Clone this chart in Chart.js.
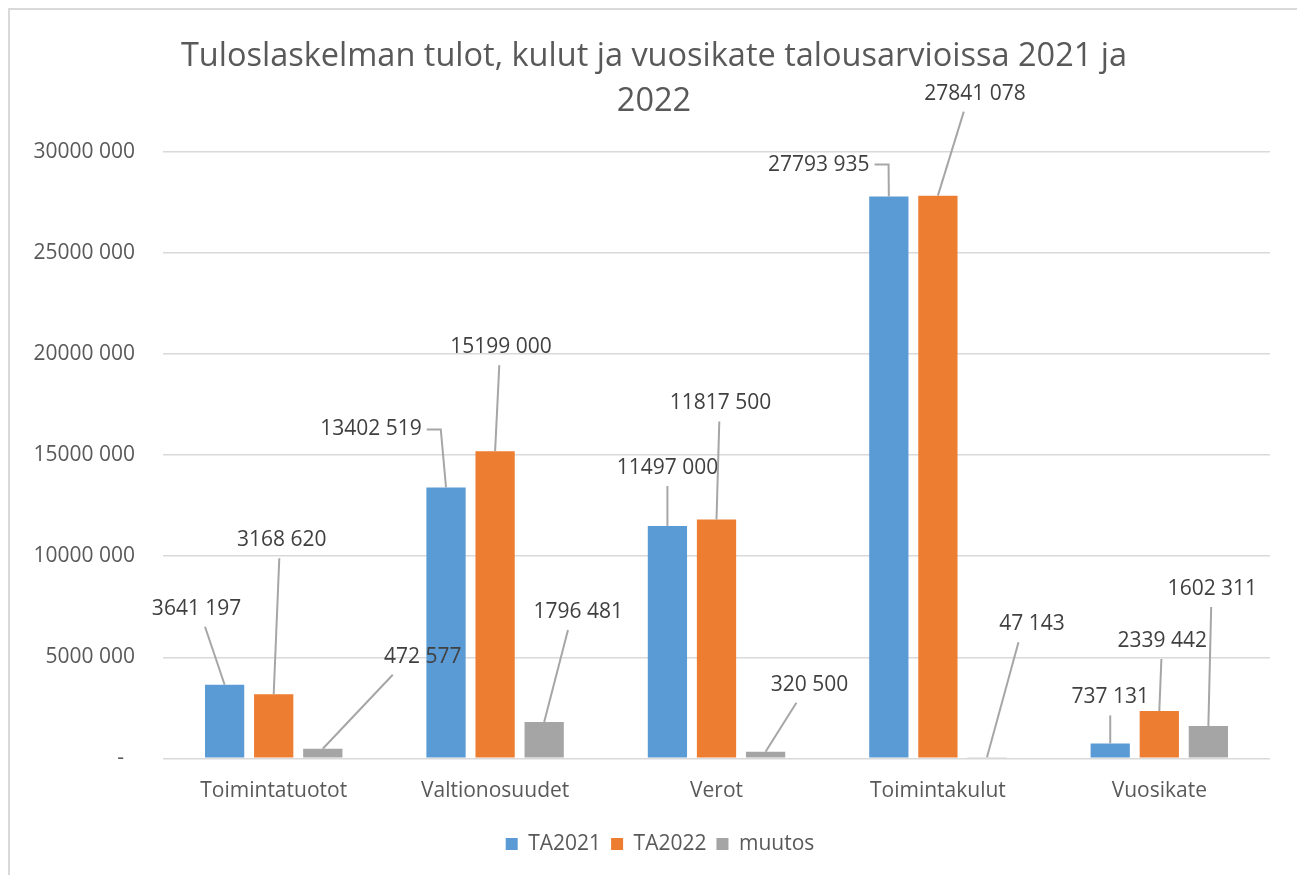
<!DOCTYPE html>
<html>
<head>
<meta charset="utf-8">
<script src="https://cdn.jsdelivr.net/npm/chart.js@4.4.1/dist/chart.umd.min.js"></script>
<style>
  html, body { margin: 0; padding: 0; background: #fff; }
  #wrap { width: 1297px; height: 875px; }
</style>
</head>
<body>
<div id="wrap"><canvas id="c"></canvas></div>
<script>
// data
const categories = ['Toimintatuotot', 'Valtionosuudet', 'Verot', 'Toimintakulut', 'Vuosikate'];
const ta2021 = [3641197, 13402519, 11497000, 27793935, 737131];
const ta2022 = [3168620, 15199000, 11817500, 27841078, 2339442];
const muutos = [472577, 1796481, 320500, 47143, 1602311];
const yTicks = [0, 5000000, 10000000, 15000000, 20000000, 25000000, 30000000];

// where each data label sits, relative to its bar top: [dx, dy, elbow]
const labelPos = [
    [[-28, -76], [-75, -58, true], [0, -58], [-70, -32, true], [0, -46]],
    [[8, -154], [6, -104], [4, -116], [37, -102], [3, -70]],
    [[100, -92], [34, -110], [44, -67], [45, -133], [4, -137]],
];

const FONT = "'Open Sans', 'Noto Sans', sans-serif";

function fmt(v) {
    if (v === 0) return '-  ';
    const th = Math.floor(v / 1000);
    const r = v % 1000;
    return th + ' ' + String(r).padStart(3, '0');
}

const frame = {
    id: 'frame',
    afterLayout(chart) {
        // title and legend sit a little right of the chart centre in the original
        chart.titleBlock.left += 28;
        chart.legend.left += 40;
    },
    beforeDraw(chart) {
        const ctx = chart.ctx;
        ctx.save();
        ctx.fillStyle = '#fff';
        ctx.fillRect(0, 0, chart.width, chart.height);
        ctx.strokeStyle = '#d9d9d9';
        ctx.lineWidth = 2;
        ctx.beginPath();
        ctx.moveTo(9, chart.height);
        ctx.lineTo(9, 9);
        ctx.lineTo(chart.width, 9);
        ctx.stroke();
        ctx.restore();
    },
};

const leaderLabels = {
    id: 'leaderLabels',
    afterDatasetsDraw(chart) {
        const ctx = chart.ctx;
        ctx.save();
        ctx.font = '21px ' + FONT;
        ctx.textAlign = 'center';
        ctx.textBaseline = 'middle';
        chart.data.datasets.forEach((ds, i) => {
            const meta = chart.getDatasetMeta(i);
            meta.data.forEach((bar, j) => {
                const pos = labelPos[i][j];
                const text = fmt(ds.data[j]);
                const bx = bar.x, by = bar.y;
                const tx = bx + pos[0], ty = by + pos[1];
                const w = ctx.measureText(text).width;
                ctx.strokeStyle = '#a6a6a6';
                ctx.lineWidth = 2;
                ctx.beginPath();
                if (pos[2]) {
                    ctx.moveTo(tx + w / 2 + 5, ty);
                    ctx.lineTo(tx + w / 2 + 19, ty);
                } else {
                    let sx = tx + (bx - tx) * 0.3;
                    sx = Math.max(tx - w / 2, Math.min(tx + w / 2, sx));
                    ctx.moveTo(sx, ty + 18);
                }
                ctx.lineTo(bx, by);
                ctx.stroke();
                ctx.fillStyle = '#404040';
                ctx.fillText(text, tx, ty);
            });
        });
        ctx.restore();
    },
};

new Chart(document.getElementById('c'), {
    type: 'bar',
    data: {
        labels: categories,
        datasets: [
            { label: 'TA2021', data: ta2021, backgroundColor: '#5b9bd5' },
            { label: 'TA2022', data: ta2022, backgroundColor: '#ed7d31' },
            { label: 'muutos', data: muutos, backgroundColor: '#a5a5a5' },
        ],
    },
    options: {
        responsive: true,
        maintainAspectRatio: false,
        animation: false,
        categoryPercentage: 0.665,
        barPercentage: 0.8,
        layout: { padding: { left: 10, right: 27, top: 0, bottom: 10.5 } },
        plugins: {
            title: {
                display: true,
                text: ['Tuloslaskelman tulot, kulut ja vuosikate talousarvioissa 2021 ja', '2022'],
                color: '#595959',
                font: { family: FONT, size: 32.5, weight: 'normal', lineHeight: 45 / 32.5 },
                padding: { top: 34, bottom: 28 },
            },
            legend: {
                position: 'bottom',
                labels: {
                    color: '#595959',
                    font: { family: FONT, size: 21 },
                    boxWidth: 12,
                    boxHeight: 12,
                    padding: 10,
                },
            },
            tooltip: { enabled: false },
        },
        scales: {
            x: {
                grid: { display: false, drawTicks: false },
                border: { display: false },
                ticks: { color: '#595959', font: { family: FONT, size: 21 }, padding: 20 },
            },
            y: {
                min: 0,
                max: 30000000,
                afterBuildTicks(scale) {
                    scale.ticks = yTicks.map(v => ({ value: v }));
                },
                afterFit(scale) {
                    scale.width = 153;
                },
                grid: { color: '#d9d9d9', lineWidth: 1.5, drawTicks: false },
                border: { display: false },
                ticks: {
                    color: '#595959',
                    font: { family: FONT, size: 21 },
                    padding: 28,
                    callback: v => fmt(v),
                },
            },
        },
    },
    plugins: [frame, leaderLabels],
});
</script>
</body>
</html>
